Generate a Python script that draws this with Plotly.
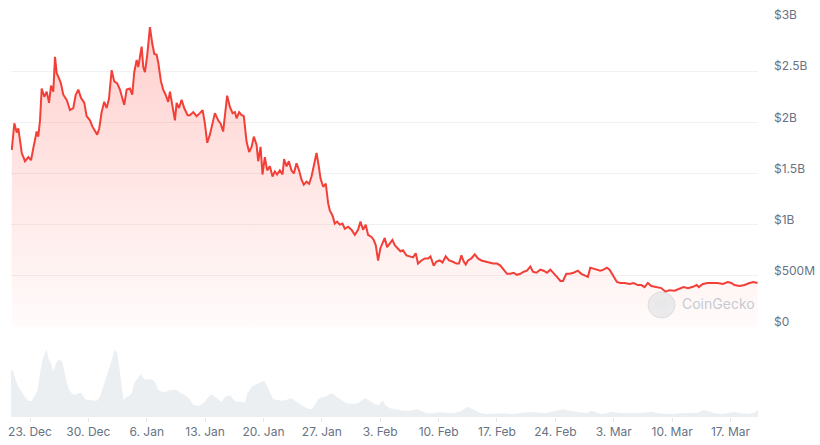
import pandas as pd
import plotly.graph_objects as go

# ---- data ----
# price series: days since 2024-12-23 00:00, market cap in billions USD
price_day = [-2.19, -1.88, -1.59, -1.40, -0.99, -0.60, -0.20, 0.12, 0.40, 0.80, 0.99, 1.20, 1.40, 1.71, 2.00,
             2.28, 2.52, 2.79, 3.00, 3.20, 3.48, 3.71, 3.99, 4.40, 4.79, 5.19, 5.48, 5.79, 6.11, 6.51,
             6.79, 7.19, 7.47, 7.79, 8.06, 8.30, 8.59, 8.90, 9.19, 9.47, 9.79, 10.10, 10.46, 10.78, 11.30,
             11.59, 11.98, 12.26, 12.50, 12.79, 12.98, 13.18, 13.39, 13.58, 13.78, 14.06, 14.38, 14.66, 14.90,
             15.18, 15.37, 15.70, 15.97, 16.26, 16.57, 16.78, 17.17, 17.38, 17.58, 17.86, 18.18, 18.49, 18.90,
             19.17, 19.57, 19.98, 20.37, 20.70, 20.97, 21.25, 21.57, 21.89, 22.17, 22.56, 22.85, 23.16, 23.37,
             23.64, 23.97, 24.29, 24.57, 24.77, 25.08, 25.37, 25.64, 25.97, 26.28, 26.57, 26.84, 27.17, 27.36,
             27.65, 27.88, 28.16, 28.44, 28.76, 29.08, 29.36, 29.63, 29.96, 30.28, 30.47, 30.76, 31.04, 31.36,
             31.64, 31.96, 32.27, 32.56, 32.83, 33.16, 33.47, 33.76, 34.03, 34.36, 34.63, 34.84, 35.15, 35.47,
             35.75, 35.95, 36.27, 36.55, 36.82, 37.15, 37.47, 37.75, 38.14, 38.55, 38.95, 39.34, 39.63, 39.94,
             40.26, 40.54, 40.95, 41.22, 41.46, 41.74, 42.02, 42.34, 42.54, 42.82, 43.14, 43.46, 43.74, 44.13,
             44.42, 44.73, 45.14, 45.54, 45.93, 46.26, 46.53, 46.94, 47.33, 47.73, 48.02, 48.41, 48.74, 49.13,
             49.46, 49.85, 50.25, 50.65, 51.13, 51.44, 51.73, 52.01, 52.25, 52.52, 52.93, 53.33, 53.72, 54.13,
             54.52, 55.04, 55.52, 56.00, 56.41, 56.80, 57.20, 57.60, 58.00, 58.39, 58.80, 59.20, 59.59, 60.00,
             60.31, 60.72, 61.20, 61.59, 61.99, 62.40, 62.79, 63.19, 63.60, 63.91, 64.31, 64.71, 65.19, 65.70,
             66.11, 66.63, 66.90, 67.19, 67.59, 67.98, 68.39, 68.78, 69.18, 69.50, 69.83, 70.10, 70.38, 70.79,
             71.30, 71.90, 72.38, 72.89, 73.30, 73.70, 74.09, 74.50, 75.10, 75.70, 76.21, 76.69, 77.29, 77.81,
             78.37, 78.89, 79.41, 79.96, 80.20, 80.68, 81.28, 81.88, 82.48, 83.08, 83.68, 84.09, 84.48, 85.08,
             85.68, 86.28, 86.76, 87.24]
market_cap_b = [1.73, 1.99, 1.90, 1.94, 1.70, 1.62, 1.66, 1.63, 1.75, 1.91, 1.86, 2.02, 2.33, 2.25, 2.30,
                2.19, 2.36, 2.30, 2.64, 2.48, 2.43, 2.38, 2.27, 2.22, 2.12, 2.14, 2.27, 2.32, 2.24, 2.19,
                2.06, 2.02, 1.96, 1.91, 1.88, 1.94, 2.10, 2.20, 2.14, 2.23, 2.51, 2.40, 2.38, 2.32, 2.17,
                2.32, 2.33, 2.27, 2.49, 2.61, 2.54, 2.64, 2.74, 2.54, 2.49, 2.66, 2.93, 2.77, 2.67,
                2.66, 2.59, 2.40, 2.32, 2.27, 2.20, 2.30, 2.12, 2.02, 2.19, 2.14, 2.22, 2.14, 2.07,
                2.07, 2.10, 2.06, 2.09, 2.12, 1.99, 1.80, 1.88, 1.99, 2.09, 2.02, 1.99, 1.91, 2.09,
                2.26, 2.15, 2.09, 2.10, 2.04, 2.10, 2.07, 2.06, 1.81, 1.71, 1.76, 1.86, 1.78, 1.62,
                1.76, 1.49, 1.66, 1.53, 1.57, 1.47, 1.52, 1.49, 1.53, 1.49, 1.64, 1.57, 1.62, 1.53,
                1.50, 1.60, 1.53, 1.44, 1.39, 1.42, 1.40, 1.47, 1.57, 1.70, 1.57, 1.45, 1.37, 1.40,
                1.21, 1.14, 1.09, 1.01, 1.03, 1.00, 1.01, 0.96, 0.98, 0.95, 0.90, 0.95, 1.03, 0.95,
                1.00, 0.90, 0.88, 0.85, 0.80, 0.65, 0.77, 0.83, 0.87, 0.78, 0.82, 0.85, 0.80, 0.77,
                0.74, 0.75, 0.70, 0.69, 0.68, 0.72, 0.62, 0.65, 0.67, 0.67, 0.69, 0.60, 0.64, 0.65,
                0.63, 0.69, 0.65, 0.64, 0.62, 0.62, 0.70, 0.64, 0.61, 0.65, 0.67, 0.71, 0.67, 0.65,
                0.64, 0.63, 0.62, 0.62, 0.60, 0.56, 0.52, 0.52, 0.53, 0.51, 0.52, 0.54, 0.55, 0.59,
                0.54, 0.53, 0.56, 0.55, 0.53, 0.56, 0.52, 0.49, 0.45, 0.45, 0.52, 0.52, 0.53, 0.55,
                0.52, 0.50, 0.49, 0.58, 0.57, 0.56, 0.55, 0.56, 0.58, 0.56, 0.52, 0.48, 0.44, 0.43,
                0.43, 0.42, 0.43, 0.41, 0.41, 0.39, 0.43, 0.40, 0.39, 0.38, 0.345, 0.36, 0.355, 0.37,
                0.39, 0.38, 0.39, 0.41, 0.39, 0.42, 0.43, 0.43, 0.43, 0.42, 0.44, 0.43, 0.41, 0.40,
                0.41, 0.43, 0.44, 0.43]

# volume series: days since 2024-12-23 00:00, volume in millions USD
vol_day = [-2.28, -2.00, -1.71, -1.40, -0.99, -0.60, -0.20, 0.20, 0.60, 0.92, 1.20, 1.48, 1.71, 2.00,
           2.19, 2.52, 2.79, 3.08, 3.32, 3.60, 3.87, 4.12, 4.40, 4.67, 4.99, 5.39, 5.79, 6.19, 6.59,
           6.99, 7.47, 8.00, 8.39, 8.79, 9.19, 9.59, 9.87, 10.19, 10.46, 10.70, 10.99, 11.23, 11.47,
           11.86, 12.19, 12.50, 12.90, 13.30, 13.70, 14.18, 14.58, 14.98, 15.38, 15.86, 16.38, 16.78,
           17.17, 17.58, 17.98, 18.57, 19.17, 19.57, 20.17, 20.77, 21.37, 21.77, 22.17, 22.56, 22.97,
           23.37, 23.97, 24.37, 24.77, 25.37, 25.76, 26.08, 26.57, 26.96, 27.36, 27.76, 28.08, 28.36,
           28.76, 29.16, 29.76, 30.36, 30.95, 31.36, 31.96, 32.56, 33.16, 33.76, 34.15, 34.55, 34.95,
           35.43, 35.95, 36.35, 36.75, 37.35, 37.95, 38.75, 39.34, 39.82, 40.23, 40.74, 41.34, 41.82,
           42.22, 42.34, 42.58, 43.14, 43.94, 44.73, 45.53, 46.33, 46.93, 47.53, 48.33, 49.13, 49.93,
           50.73, 51.53, 52.13, 52.52, 53.12, 53.92, 54.72, 55.72, 56.72, 57.72, 58.52, 59.32, 60.12,
           61.12, 61.72, 62.52, 63.31, 63.91, 64.71, 65.51, 66.11, 66.71, 67.31, 67.91, 68.51, 69.11,
           69.71, 70.51, 71.31, 72.11, 72.91, 73.70, 74.50, 75.30, 76.10, 76.90, 77.70, 78.50, 79.30,
           80.10, 80.82, 81.50, 82.10, 82.90, 83.70, 84.50, 85.30, 86.10, 86.90, 87.38]
volume_m = [191, 181, 148, 121, 101, 79, 65, 64, 88, 108, 175, 228, 248, 272,
            235, 215, 181, 212, 225, 228, 221, 181, 141, 108, 95, 88, 95, 95, 71,
            68, 68, 65, 81, 121, 161, 201, 235, 271, 255, 201, 121, 65, 79,
            84, 95, 135, 155, 172, 151, 151, 151, 141, 108, 101, 101, 108,
            108, 108, 97, 88, 71, 48, 44, 55, 79, 92, 81, 71, 61,
            79, 88, 71, 61, 61, 57, 95, 121, 128, 135, 141, 145, 128,
            101, 71, 68, 65, 71, 75, 61, 48, 35, 31, 48, 71, 79,
            81, 92, 95, 81, 68, 55, 52, 55, 68, 75, 65, 52, 48,
            61, 68, 48, 35, 31, 25, 25, 31, 25, 15, 15, 19, 17,
            15, 21, 35, 41, 31, 17, 12, 15, 15, 12, 15, 17, 20,
            17, 15, 21, 28, 31, 25, 21, 17, 15, 25, 17, 12, 15,
            21, 17, 15, 17, 15, 17, 21, 15, 12, 12, 15, 15, 15,
            17, 28, 21, 15, 12, 17, 20, 15, 12, 17, 31]

y_tickvals_b = [0, 0.5, 1, 1.5, 2, 2.5, 3]
y_ticktext = ["$0", "$500M", "$1B", "$1.5B", "$2B", "$2.5B", "$3B"]

# ---- build ----
base = pd.Timestamp("2024-12-23")
price_x = base + pd.to_timedelta(price_day, unit="D")
vol_x = base + pd.to_timedelta(vol_day, unit="D")
price_y = [v * 1e9 for v in market_cap_b]

x_start = base + pd.to_timedelta(-2.28, unit="D")
x_end = base + pd.to_timedelta(87.3, unit="D")

RED = "#f23f37"
TXT = "#677382"
FONT = "Inter, Roboto, sans-serif"

fig = go.Figure()
fig.add_trace(go.Scatter(
    x=vol_x, y=volume_m, mode="lines", line=dict(width=0, color="#eceff2"),
    fill="tozeroy", fillcolor="#eceff2", yaxis="y2", hoverinfo="skip", showlegend=False,
))
fig.add_trace(go.Scatter(
    x=price_x, y=price_y, mode="lines", line=dict(color=RED, width=2),
    fill="tozeroy",
    fillgradient=dict(type="vertical", start=0, stop=3e9,
                      colorscale=[[0, "rgba(255,70,60,0.02)"], [1, "rgba(255,70,60,0.26)"]]),
    yaxis="y", showlegend=False,
))

W, H = 820, 445
left_px, right_px = 11, 758
top_px, bottom_px = 20, 417
plot_w = right_px - left_px
plot_h = bottom_px - top_px
price_zero_px = 327
vol_top_px = 345

fig.update_layout(
    width=W, height=H,
    margin=dict(l=left_px, r=W - right_px, t=top_px, b=H - bottom_px, pad=0, autoexpand=False),
    paper_bgcolor="white", plot_bgcolor="white",
    font=dict(family=FONT, size=12, color=TXT),
    showlegend=False,
    xaxis=dict(
        type="date", range=[x_start, x_end], anchor="y2", automargin=False,
        tick0="2024-12-23", dtick=7 * 86400000, tickformat="%-d. %b",
        showgrid=False, zeroline=False, showline=False,
        ticks="outside", ticklen=4, tickcolor="#e3e6ea", tickwidth=1,
        tickfont=dict(family=FONT, size=12, color=TXT),
    ),
    yaxis=dict(
        domain=[(bottom_px - price_zero_px) / plot_h, 1.0], automargin=False,
        range=[0, 3e9], side="right",
        tickvals=[v * 1e9 for v in y_tickvals_b], ticktext=y_ticktext,
        showgrid=True, gridcolor="#eff1f3", gridwidth=1,
        zeroline=False, showline=False, ticks="",
        ticklabelstandoff=15, ticklabelshift=-5,
        tickfont=dict(family=FONT, size=12, color=TXT),
        fixedrange=True,
    ),
    yaxis2=dict(
        domain=[0, (bottom_px - vol_top_px) / plot_h], automargin=False,
        range=[0, 72 * 4], showgrid=False, zeroline=False, showline=False,
        showticklabels=False, ticks="",
    ),
)

# CoinGecko watermark
fig.add_shape(type="circle", xref="paper", yref="paper",
              x0=(648 - left_px) / plot_w, x1=(675 - left_px) / plot_w,
              y0=(bottom_px - 318) / plot_h, y1=(bottom_px - 292) / plot_h,
              fillcolor="rgba(200,205,210,0.35)", line=dict(color="rgba(200,205,210,0.5)", width=1),
              layer="above")
fig.add_shape(type="circle", xref="paper", yref="paper",
              x0=(655 - left_px) / plot_w, x1=(668 - left_px) / plot_w,
              y0=(bottom_px - 312) / plot_h, y1=(bottom_px - 297) / plot_h,
              fillcolor="rgba(230,232,235,0.6)", line=dict(width=0), layer="above")
fig.add_annotation(text="CoinGecko", xref="paper", yref="paper",
                   x=(680 - left_px) / plot_w, y=(bottom_px - 303) / plot_h,
                   xanchor="left", yanchor="middle", showarrow=False,
                   font=dict(family=FONT, size=14, color="rgba(190,196,203,0.9)"))

fig.write_html("out.html")
